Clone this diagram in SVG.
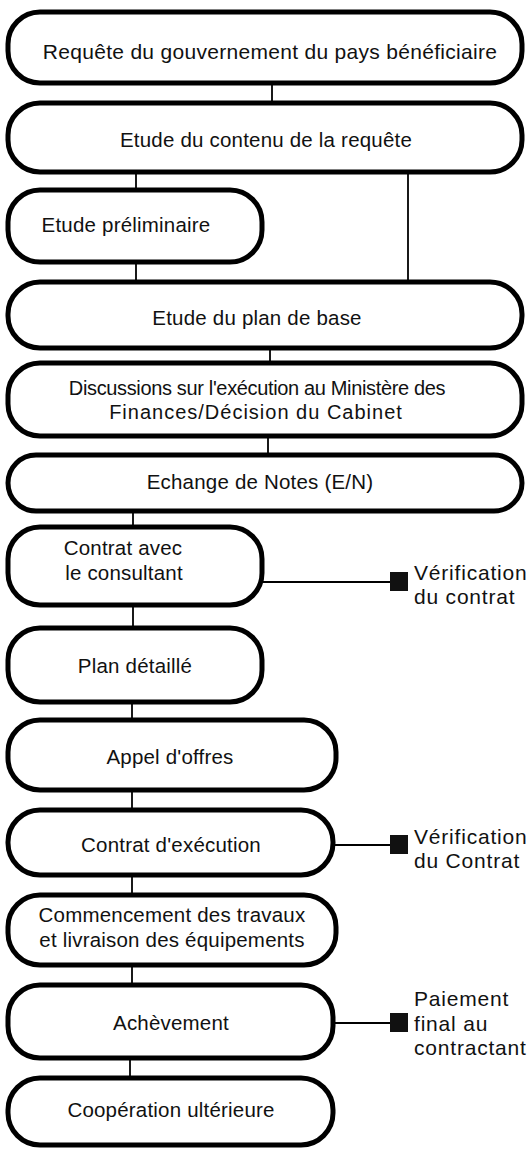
<svg xmlns="http://www.w3.org/2000/svg" width="532" height="1149" viewBox="0 0 532 1149">
  <style>
    .box { fill: #ffffff; stroke: #000000; stroke-width: 5; }
    .lbl { font-family: "Liberation Sans", Arial, sans-serif; font-size: 20.5px; letter-spacing: 0.2px; fill: #111111; text-anchor: middle; }
    .big { font-size: 21px; letter-spacing: 0.3px; }
    .side { font-family: "Liberation Sans", Arial, sans-serif; font-size: 21px; letter-spacing: 0.8px; fill: #111111; }
    .wire { stroke: #000000; stroke-width: 1.8; fill: none; }
    .mark { fill: #111111; }
  </style>
  <rect width="532" height="1149" fill="#ffffff"/>

  <!-- connectors between steps -->
  <g id="connectors">
    <line class="wire" x1="272" y1="82" x2="272" y2="104"/>
    <line class="wire" x1="136" y1="172" x2="136" y2="191"/>
    <line class="wire" x1="408" y1="172" x2="408" y2="283"/>
    <line class="wire" x1="136" y1="262" x2="136" y2="283"/>
    <line class="wire" x1="270" y1="347" x2="270" y2="364"/>
    <line class="wire" x1="268" y1="436" x2="268" y2="456"/>
    <line class="wire" x1="133" y1="510" x2="133" y2="528"/>
    <line class="wire" x1="133" y1="605" x2="133" y2="628"/>
    <line class="wire" x1="132" y1="702" x2="132" y2="721"/>
    <line class="wire" x1="132" y1="790" x2="132" y2="811"/>
    <line class="wire" x1="132" y1="875" x2="132" y2="896"/>
    <line class="wire" x1="132" y1="965" x2="132" y2="986"/>
    <line class="wire" x1="130" y1="1058" x2="130" y2="1079"/>
    <!-- side branches to checkpoints -->
    <line class="wire" x1="262" y1="582" x2="392" y2="582"/>
    <line class="wire" x1="333" y1="845" x2="392" y2="845"/>
    <line class="wire" x1="333" y1="1023" x2="392" y2="1023"/>
  </g>

  <g id="n1">
    <rect class="box" x="8" y="12" width="514" height="71" rx="32"/>
    <text class="lbl big" x="270" y="59">Requête du gouvernement du pays bénéficiaire</text>
  </g>
  <g id="n2">
    <rect class="box" x="8" y="103" width="514" height="69" rx="32"/>
    <text class="lbl" x="266" y="147">Etude du contenu de la requête</text>
  </g>
  <g id="n3">
    <rect class="box" x="8" y="190" width="254" height="72" rx="32"/>
    <text class="lbl" x="126" y="232">Etude préliminaire</text>
  </g>
  <g id="n4">
    <rect class="box" x="8" y="282" width="514" height="66" rx="32"/>
    <text class="lbl" x="257" y="325">Etude du plan de base</text>
  </g>
  <g id="n5">
    <rect class="box" x="8" y="363" width="514" height="73" rx="32"/>
    <text class="lbl" x="257" y="395" style="font-size:20px;letter-spacing:-0.35px">Discussions sur l'exécution au Ministère des</text>
    <text class="lbl" x="256" y="419" style="font-size:20px;letter-spacing:1px">Finances/Décision du Cabinet</text>
  </g>
  <g id="n6">
    <rect class="box" x="8" y="455" width="514" height="56" rx="28"/>
    <text class="lbl" x="260" y="489">Echange de Notes (E/N)</text>
  </g>
  <g id="n7">
    <rect class="box" x="8" y="527" width="254" height="78" rx="32"/>
    <text class="lbl" x="123" y="555">Contrat avec</text>
    <text class="lbl" x="124" y="580">le consultant</text>
  </g>
  <g id="n8">
    <rect class="box" x="8" y="628" width="254" height="74" rx="32"/>
    <text class="lbl" x="135" y="673">Plan détaillé</text>
  </g>
  <g id="n9">
    <rect class="box" x="8" y="720" width="328" height="70" rx="32"/>
    <text class="lbl" x="170" y="764">Appel d'offres</text>
  </g>
  <g id="n10">
    <rect class="box" x="8" y="810" width="325" height="65" rx="32"/>
    <text class="lbl" x="171" y="852">Contrat d'exécution</text>
  </g>
  <g id="n11">
    <rect class="box" x="8" y="895" width="328" height="70" rx="32"/>
    <text class="lbl" x="172" y="922">Commencement des travaux</text>
    <text class="lbl" x="172" y="947">et livraison des équipements</text>
  </g>
  <g id="n12">
    <rect class="box" x="8" y="985" width="325" height="73" rx="32"/>
    <text class="lbl" x="171" y="1030">Achèvement</text>
  </g>
  <g id="n13">
    <rect class="box" x="8" y="1078" width="325" height="67" rx="32"/>
    <text class="lbl" x="171" y="1117">Coopération ultérieure</text>
  </g>

  <g id="check1">
    <rect class="mark" x="390" y="572" width="18" height="19"/>
    <text class="side" x="414" y="580">Vérification</text>
    <text class="side" x="414" y="604">du contrat</text>
  </g>
  <g id="check2">
    <rect class="mark" x="390" y="835" width="18" height="19"/>
    <text class="side" x="414" y="844">Vérification</text>
    <text class="side" x="414" y="868">du Contrat</text>
  </g>
  <g id="pay">
    <rect class="mark" x="390" y="1013" width="18" height="19"/>
    <text class="side" x="414" y="1006">Paiement</text>
    <text class="side" x="414" y="1031">final au</text>
    <text class="side" x="414" y="1055">contractant</text>
  </g>
</svg>
